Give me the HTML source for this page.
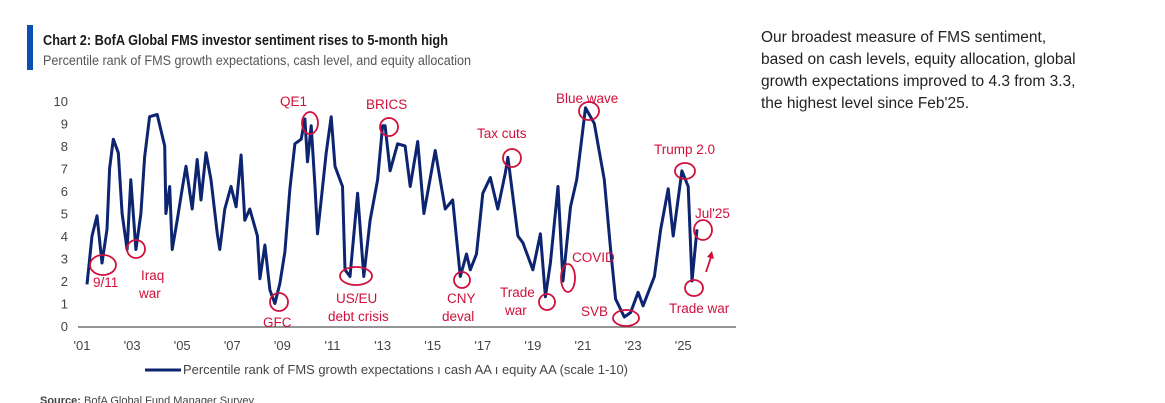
<!DOCTYPE html>
<html><head><meta charset="utf-8">
<style>
html,body{margin:0;padding:0;background:#fff;}
body{width:1165px;height:403px;overflow:hidden;position:relative;font-family:"Liberation Sans",sans-serif;}
svg{position:absolute;left:0;top:0;}
</style></head>
<body>
<svg id="c" width="1165" height="403">
  <rect x="27" y="25" width="6" height="45" fill="#0b4fb3"/>
  <text x="43" y="45" font-size="14.5" font-weight="bold" fill="#1a1a1a" textLength="405" lengthAdjust="spacingAndGlyphs">Chart 2: BofA Global FMS investor sentiment rises to 5-month high</text>
  <text x="43" y="65" font-size="13.5" fill="#555" textLength="428" lengthAdjust="spacingAndGlyphs">Percentile rank of FMS growth expectations, cash level, and equity allocation</text>
  <g font-size="15.5" fill="#222">
    <text x="761" y="42">Our broadest measure of FMS sentiment,</text>
    <text x="761" y="64">based on cash levels, equity allocation, global</text>
    <text x="761" y="86">growth expectations improved to 4.3 from 3.3,</text>
    <text x="761" y="108">the highest level since Feb'25.</text>
  </g>
  <g id="yaxis"></g>
  <g id="xaxis"></g>
  <line x1="78" y1="327" x2="736" y2="327" stroke="#555" stroke-width="1.3"/>
  <path id="series" fill="none" stroke="#0d2470" stroke-width="3" stroke-linejoin="round"/>
  <g id="ann" fill="none" stroke="#d0103a" stroke-width="1.8"></g>
  <g fill="#d0103a" font-size="13.5">
    <text x="93" y="287">9/11</text>
    <text x="141" y="280">Iraq</text><text x="139" y="298">war</text>
    <text x="263" y="327">GFC</text>
    <text x="280" y="106">QE1</text>
    <text x="366" y="109">BRICS</text>
    <text x="336" y="303">US/EU</text><text x="328" y="321">debt crisis</text>
    <text x="447" y="303">CNY</text><text x="442" y="321">deval</text>
    <text x="477" y="138">Tax cuts</text>
    <text x="500" y="297">Trade</text><text x="505" y="315">war</text>
    <text x="572" y="262">COVID</text>
    <text x="556" y="103">Blue wave</text>
    <text x="581" y="316">SVB</text>
    <text x="654" y="154">Trump 2.0</text>
    <text x="695" y="218">Jul'25</text>
    <text x="669" y="313">Trade war</text>
  </g>
  <line x1="706" y1="272" x2="711" y2="257" stroke="#d0103a" stroke-width="1.8"/>
  <path d="M707,257 L712,251 L714,259 Z" fill="#d0103a"/>
  <line x1="145" y1="370" x2="181" y2="370" stroke="#0d2470" stroke-width="3"/>
  <text x="183" y="374" font-size="12.5" fill="#444" textLength="445" lengthAdjust="spacingAndGlyphs">Percentile rank of FMS growth expectations ı cash AA ı equity AA (scale 1-10)</text>
  <text x="40" y="404" font-size="11" fill="#444"><tspan font-weight="bold">Source:</tspan> BofA Global Fund Manager Survey</text>
</svg>
<script>
const years=[2001.2,2001.4,2001.6,2001.8,2002.0,2002.1,2002.25,2002.45,2002.6,2002.8,2002.95,2003.15,2003.35,2003.5,2003.7,2004.0,2004.3,2004.35,2004.5,2004.6,2004.8,2005.0,2005.15,2005.4,2005.6,2005.75,2005.95,2006.15,2006.4,2006.5,2006.7,2006.95,2007.15,2007.35,2007.5,2007.7,2008.0,2008.1,2008.3,2008.5,2008.7,2008.9,2009.1,2009.3,2009.5,2009.75,2009.9,2010.0,2010.15,2010.3,2010.4,2010.55,2010.75,2010.95,2011.1,2011.4,2011.5,2011.7,2012.0,2012.25,2012.5,2012.8,2013.0,2013.1,2013.3,2013.6,2013.9,2014.1,2014.4,2014.65,2015.1,2015.5,2015.8,2016.1,2016.35,2016.5,2016.75,2017.0,2017.3,2017.6,2017.9,2018.0,2018.4,2018.6,2019.0,2019.3,2019.5,2019.7,2020.0,2020.2,2020.5,2020.75,2021.1,2021.45,2021.85,2022.1,2022.3,2022.65,2022.9,2023.2,2023.4,2023.85,2024.1,2024.4,2024.6,2024.95,2025.2,2025.35,2025.55];
const values=[1.85,4.0,4.9,2.8,4.3,7.0,8.3,7.7,5.0,3.4,6.5,3.4,5.0,7.5,9.3,9.4,8.0,5.0,6.2,3.4,4.7,6.1,7.1,5.2,7.4,5.6,7.7,6.5,4.1,3.4,5.2,6.2,5.3,7.6,4.7,5.2,4.0,2.1,3.6,1.6,1.0,1.9,3.3,6.1,8.1,8.3,9.2,7.3,8.9,6.2,4.1,5.6,7.7,9.3,7.1,6.2,2.5,2.2,5.9,2.2,4.7,6.5,8.9,8.9,6.9,8.1,8.0,6.2,8.2,5.0,7.8,5.2,5.6,2.2,3.2,2.5,3.2,5.9,6.6,5.2,6.8,7.5,4.0,3.7,2.5,4.1,1.3,2.8,6.2,2.0,5.3,6.5,9.7,9.0,6.5,3.4,1.2,0.4,0.6,1.5,0.9,2.2,4.3,6.1,4.0,6.9,6.2,2.0,4.3];
const yTicks=[0,1,2,3,4,5,6,7,8,9,10];
const xTickYears=[2001,2003,2005,2007,2009,2011,2013,2015,2017,2019,2021,2023,2025];
const xTickLabels=["'01","'03","'05","'07","'09","'11","'13","'15","'17","'19","'21","'23","'25"];
const ann=[[103,265,13,10],[136,249,9,9],[279,302,9,9],[310,123,8,11],[389,127,9,9],[356,276,16,9],[462,280,8,8],[512,158,9,9],[547,302,8,8],[568,278,7,14],[589,111,10,9],[626,318,13,8],[685,171,10,8],[703,230,9,10],[694,288,9,8]];
function X(y){return 82+25.05*(y-2001);}
function Y(v){return 326-22.5*v;}
const NS="http://www.w3.org/2000/svg";
const ya=document.getElementById('yaxis');
yTicks.forEach(t=>{const e=document.createElementNS(NS,'text');


e.setAttribute('x',68);e.setAttribute('y',Y(t)+5);e.setAttribute('text-anchor','end');e.setAttribute('font-size','13');e.setAttribute('fill','#444');e.textContent=t;ya.appendChild(e);});
const xa=document.getElementById('xaxis');
xTickYears.forEach((yr,i)=>{const e=document.createElementNS(NS,'text');


e.setAttribute('x',X(yr));e.setAttribute('y',350);e.setAttribute('text-anchor','middle');e.setAttribute('font-size','13');e.setAttribute('fill','#444');e.textContent=xTickLabels[i];xa.appendChild(e);});
document.getElementById('series').setAttribute('d',years.map((y,i)=>(i?'L':'M')+X(y).toFixed(1)+','+Y(values[i]).toFixed(1)).join(' '));
const ag=document.getElementById('ann');
ann.forEach(a=>{const e=document.createElementNS(NS,'ellipse');


e.setAttribute('cx',a[0]);e.setAttribute('cy',a[1]);e.setAttribute('rx',a[2]);e.setAttribute('ry',a[3]);ag.appendChild(e);});
</script>
</body></html>
